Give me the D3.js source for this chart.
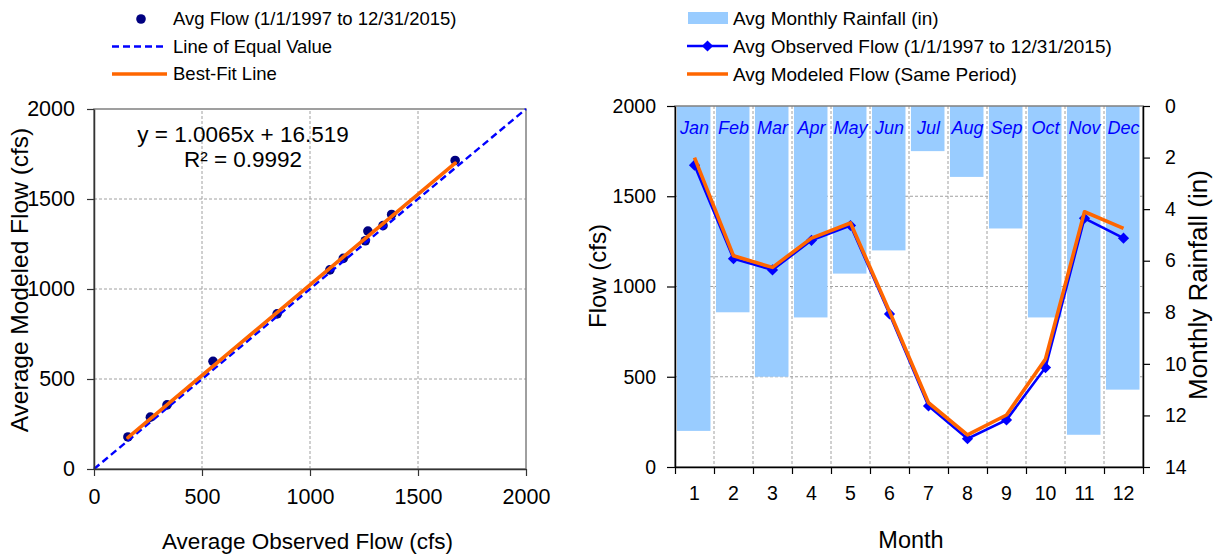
<!DOCTYPE html>
<html>
<head>
<meta charset="utf-8">
<script src="https://cdn.jsdelivr.net/npm/d3@7"></script>
<style>
  html, body { margin: 0; padding: 0; background: #fff; }
  svg { display: block; font-family: "Liberation Sans", Arial, sans-serif; }
</style>
</head>
<body>
<script>
// Monthly averages, 1/1/1997 - 12/31/2015
const monthNumbers = [1, 2, 3, 4, 5, 6, 7, 8, 9, 10, 11, 12];
const monthNames = ["Jan", "Feb", "Mar", "Apr", "May", "Jun", "Jul", "Aug", "Sep", "Oct", "Nov", "Dec"];
const rainfallIn = [12.6, 8.0, 10.5, 8.2, 6.5, 5.6, 1.75, 2.75, 4.75, 8.2, 12.75, 11.0];
const observedFlow = [1672, 1154, 1092, 1256, 1338, 848, 338, 157, 261, 551, 1378, 1268];
const modeledFlow = [1714, 1170, 1106, 1268, 1352, 862, 356, 178, 288, 598, 1414, 1322];

// Axis ticks
const flowTicks = [0, 500, 1000, 1500, 2000];
const rainTicks = [0, 2, 4, 6, 8, 10, 12, 14];

// Regression of modeled on observed flow
const fitSlope = 1.0065;
const fitIntercept = 16.519;
const fitR2 = 0.9992;

const W = 1222, H = 557;
const svg = d3.select("body").append("svg").attr("width", W).attr("height", H);

const gridColor = "#a0a0a0";
const blue = "#0000ff";
const orange = "#ff6600";
const navy = "#000080";
const rainFill = "#99ccff";
const plain = d3.format("d");

function styleAxis(g, size, color) {
  g.select(".domain").attr("stroke", color).attr("stroke-width", 1.5);
  g.selectAll(".tick line").attr("stroke", color).attr("stroke-width", 1.2);
  g.selectAll(".tick text").attr("fill", "#000").style("font-size", size + "px")
    .style("font-family", '"Liberation Sans", Arial, sans-serif');
}

/* ---------------- Scatter: observed vs modeled ---------------- */
const L = { left: 94, right: 526, top: 109, bottom: 469 };
const xL = d3.scaleLinear().domain([0, 2000]).range([L.left, L.right]);
const yL = d3.scaleLinear().domain([0, 2000]).range([L.bottom, L.top]);
const gL = svg.append("g");

// grid
const innerTicks = flowTicks.filter(t => t > 0 && t < 2000);
gL.selectAll(".vg").data(innerTicks).join("line")
  .attr("x1", d => xL(d)).attr("x2", d => xL(d))
  .attr("y1", yL(0)).attr("y2", yL(2000))
  .attr("stroke", gridColor).attr("stroke-dasharray", "3,2");
gL.selectAll(".hg").data(innerTicks).join("line")
  .attr("y1", d => yL(d)).attr("y2", d => yL(d))
  .attr("x1", xL(0)).attr("x2", xL(2000))
  .attr("stroke", gridColor).attr("stroke-dasharray", "3,2");
gL.append("rect")
  .attr("x", xL(0)).attr("y", yL(2000))
  .attr("width", xL(2000) - xL(0)).attr("height", yL(0) - yL(2000))
  .attr("fill", "none").attr("stroke", "#808080").attr("stroke-width", 1.5);

// points
const pairs = observedFlow.map((o, i) => ({ obs: o, mod: modeledFlow[i] }));
gL.selectAll(".pt").data(pairs).join("circle")
  .attr("cx", d => xL(d.obs)).attr("cy", d => yL(d.mod)).attr("r", 4.8)
  .attr("fill", navy);

// line of equal value
gL.append("line")
  .attr("x1", xL(0)).attr("y1", yL(0)).attr("x2", xL(2000)).attr("y2", yL(2000))
  .attr("stroke", blue).attr("stroke-width", 2.4).attr("stroke-dasharray", "7,4");

// best-fit line over the observed range
const xMin = d3.min(observedFlow), xMax = d3.max(observedFlow);
gL.append("line")
  .attr("x1", xL(xMin)).attr("y1", yL(fitSlope * xMin + fitIntercept))
  .attr("x2", xL(xMax)).attr("y2", yL(fitSlope * xMax + fitIntercept))
  .attr("stroke", orange).attr("stroke-width", 3.6).attr("stroke-linecap", "round");

// axes
const axL = gL.append("g").attr("transform", `translate(${L.left},0)`)
  .call(d3.axisLeft(yL).tickValues(flowTicks).tickFormat(plain)
    .tickSize(7).tickSizeOuter(0).tickPadding(12));
styleAxis(axL, 21.5, "#333");
const axB = gL.append("g").attr("transform", `translate(0,${L.bottom})`)
  .call(d3.axisBottom(xL).tickValues(flowTicks).tickFormat(plain)
    .tickSize(7).tickSizeOuter(0).tickPadding(12.5));
styleAxis(axB, 21.5, "#333");

// equation
gL.append("text").attr("x", 243).attr("y", 141.5).attr("text-anchor", "middle")
  .style("font-size", "22.5px")
  .text(`y = ${fitSlope}x + ${fitIntercept}`);
gL.append("text").attr("x", 243).attr("y", 166.5).attr("text-anchor", "middle")
  .style("font-size", "22.5px")
  .text(`R² = ${fitR2}`);

// axis titles
gL.append("text").attr("x", 307.5).attr("y", 549).attr("text-anchor", "middle")
  .style("font-size", "22.5px").text("Average Observed Flow (cfs)");
gL.append("text").attr("transform", "translate(28,280) rotate(-90)")
  .attr("text-anchor", "middle").style("font-size", "24.5px")
  .text("Average Modeled Flow (cfs)");

// legend
const legL = gL.append("g");
legL.append("circle").attr("cx", 141).attr("cy", 19).attr("r", 4.8).attr("fill", navy);
legL.append("line").attr("x1", 112).attr("x2", 167).attr("y1", 46.5).attr("y2", 46.5)
  .attr("stroke", blue).attr("stroke-width", 2.4).attr("stroke-dasharray", "7,4");
legL.append("line").attr("x1", 112).attr("x2", 167).attr("y1", 74).attr("y2", 74)
  .attr("stroke", orange).attr("stroke-width", 3.6);
const legLText = ["Avg Flow (1/1/1997 to 12/31/2015)", "Line of Equal Value", "Best-Fit Line"];
legL.selectAll(".lt").data(legLText).join("text")
  .attr("x", 173).attr("y", (d, i) => [19, 46.5, 74][i]).attr("dy", "0.35em")
  .style("font-size", "18.5px").text(d => d);

/* ---------------- Monthly flow and rainfall ---------------- */
const R = { left: 675, right: 1143, top: 106, bottom: 467 };
const xR = d3.scaleBand().domain(monthNumbers).range([R.left, R.right]).padding(0);
const bw = xR.bandwidth();
const xEdge = d3.scaleLinear().domain([0.5, 12.5]).range([R.left, R.right]);
const yR = d3.scaleLinear().domain([0, 2000]).range([R.bottom, R.top]);
const yRain = d3.scaleLinear().domain([0, 14]).range([R.top, R.bottom]);
const gR = svg.append("g");
const edges = d3.range(0.5, 13, 1);

// grid
gR.selectAll(".hg").data(innerTicks).join("line")
  .attr("x1", R.left).attr("x2", R.right)
  .attr("y1", d => yR(d)).attr("y2", d => yR(d))
  .attr("stroke", gridColor).attr("stroke-dasharray", "3,2");
gR.selectAll(".vg").data(edges.slice(1, -1)).join("line")
  .attr("x1", d => xEdge(d)).attr("x2", d => xEdge(d))
  .attr("y1", R.top).attr("y2", R.bottom)
  .attr("stroke", gridColor).attr("stroke-dasharray", "3,2");

// rainfall bars hanging from the top
const months = monthNumbers.map((m, i) => ({
  m, name: monthNames[i], rain: rainfallIn[i], obs: observedFlow[i], mod: modeledFlow[i]
}));
gR.selectAll(".bar").data(months).join("rect")
  .attr("x", d => xR(d.m) + bw * 0.05).attr("width", bw * 0.86)
  .attr("y", yRain(0)).attr("height", d => yRain(d.rain) - yRain(0))
  .attr("fill", rainFill);

gR.append("rect")
  .attr("x", R.left).attr("y", R.top)
  .attr("width", R.right - R.left).attr("height", R.bottom - R.top)
  .attr("fill", "none").attr("stroke", "#808080").attr("stroke-width", 1.5);

// month names
gR.selectAll(".mn").data(months).join("text")
  .attr("x", d => xR(d.m) + bw / 2).attr("y", 134)
  .attr("text-anchor", "middle").attr("fill", blue)
  .style("font-size", "18px").style("font-style", "italic")
  .text(d => d.name);

// flow lines
const cx = d => xR(d.m) + bw / 2;
gR.append("path").datum(months)
  .attr("d", d3.line().x(cx).y(d => yR(d.obs)))
  .attr("fill", "none").attr("stroke", blue).attr("stroke-width", 2.6);
const dia = 5.6;
gR.selectAll(".dm").data(months).join("path")
  .attr("d", d => {
    const x = cx(d), y = yR(d.obs);
    return `M${x},${y - dia}L${x + dia},${y}L${x},${y + dia}L${x - dia},${y}Z`;
  })
  .attr("fill", blue);
gR.append("path").datum(months)
  .attr("d", d3.line().x(cx).y(d => yR(d.mod)))
  .attr("fill", "none").attr("stroke", orange).attr("stroke-width", 3.6)
  .attr("stroke-linejoin", "round");

// axes
const axRL = gR.append("g").attr("transform", `translate(${R.left},0)`)
  .call(d3.axisLeft(yR).tickValues(flowTicks).tickFormat(plain)
    .tickSize(8).tickSizeOuter(0).tickPadding(11));
styleAxis(axRL, 19.5, "#000");
const axRR = gR.append("g").attr("transform", `translate(${R.right},0)`)
  .call(d3.axisRight(yRain).tickValues(rainTicks).tickFormat(plain)
    .tickSize(7).tickSizeOuter(0).tickPadding(15));
styleAxis(axRR, 19.5, "#000");
const axRB = gR.append("g").attr("transform", `translate(0,${R.bottom})`)
  .call(d3.axisBottom(xEdge).tickValues(edges).tickSize(7).tickSizeOuter(0).tickFormat(""));
styleAxis(axRB, 19.5, "#000");
const axRLab = gR.append("g").attr("transform", `translate(0,${R.bottom})`)
  .call(d3.axisBottom(xR).tickSize(0).tickPadding(19));
axRLab.select(".domain").remove();
styleAxis(axRLab, 19.5, "#000");

// axis titles
gR.append("text").attr("x", 911).attr("y", 548).attr("text-anchor", "middle")
  .style("font-size", "23.5px").text("Month");
gR.append("text").attr("transform", "translate(606,276) rotate(-90)")
  .attr("text-anchor", "middle").style("font-size", "24px").text("Flow (cfs)");
gR.append("text").attr("transform", "translate(1207,285) rotate(-90)")
  .attr("text-anchor", "middle").style("font-size", "26px").text("Monthly Rainfall (in)");

// legend
const legR = gR.append("g");
legR.append("rect").attr("x", 688).attr("y", 12).attr("width", 40).attr("height", 12).attr("fill", rainFill);
legR.append("line").attr("x1", 687).attr("x2", 728).attr("y1", 46).attr("y2", 46)
  .attr("stroke", blue).attr("stroke-width", 2.6);
legR.append("path")
  .attr("d", `M707.5,${46 - dia}L${707.5 + dia},46L707.5,${46 + dia}L${707.5 - dia},46Z`)
  .attr("fill", blue);
legR.append("line").attr("x1", 687).attr("x2", 728).attr("y1", 74).attr("y2", 74)
  .attr("stroke", orange).attr("stroke-width", 3.6);
const legRText = ["Avg Monthly Rainfall (in)", "Avg Observed Flow (1/1/1997 to 12/31/2015)", "Avg Modeled Flow (Same Period)"];
legR.selectAll(".lt").data(legRText).join("text")
  .attr("x", 733).attr("y", (d, i) => [18, 46, 74][i]).attr("dy", "0.35em")
  .style("font-size", "19px").text(d => d);
</script>
</body>
</html>
